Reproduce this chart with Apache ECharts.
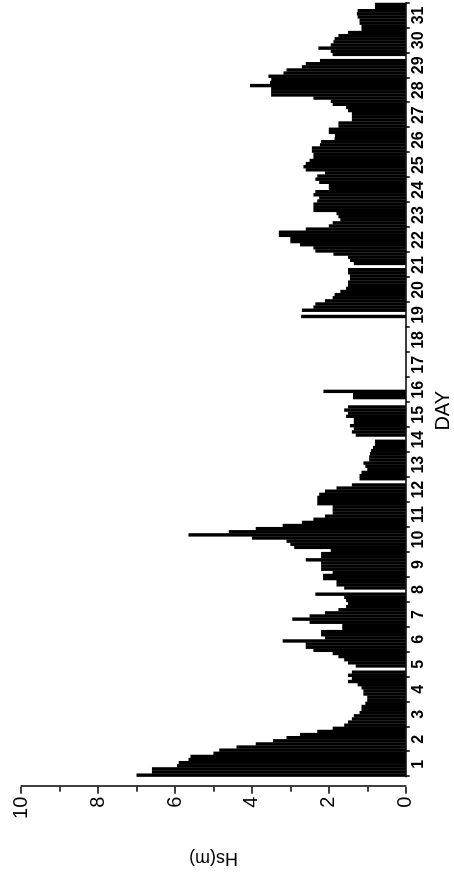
<!DOCTYPE html>
<html>
<head>
<meta charset="utf-8">
<script src="https://cdn.jsdelivr.net/npm/echarts@6/dist/echarts.min.js"></script>
<style>
html,body{margin:0;padding:0;width:454px;height:881px;overflow:hidden;background:#fff}
#chart{position:absolute;left:0;top:0;width:881px;height:454px;transform-origin:0 0;transform:translate(0,881px) rotate(-90deg);}
</style>
</head>
<body>
<div id="chart"></div>
<script>
// Day labels (category axis)
const days = ['1','2','3','4','5','6','7','8','9','10','11','12','13','14','15','16',
  '17','18','19','20','21','22','23','24','25','26','27','28','29','30','31'];
// Value axis ticks
const hsMin = 0, hsMax = 10, hsStep = 2;
// 3-hourly significant wave height Hs (m), 8 values per day, null = no data
const slotsPerDay = 8;
const hsDay01to08 = [
  7.0, 6.6, 6.6, 5.95, 5.9, 5.65, 5.6, 5.0,
  4.85, 4.4, 3.9, 3.45, 3.1, 2.75, 2.3, 1.9,
  1.6, 1.5, 1.4, 1.35, 1.2, 1.15, 1.15, 1.05,
  1.0, 1.0, 1.1, 1.1, 1.15, 1.25, 1.5, 1.4,
  1.5, 1.4, null, 1.3, 1.5, 1.6, 1.75, 1.9,
  2.4, 2.6, 2.6, 3.2, 2.1, 2.2, 2.2, 1.65,
  1.65, 2.5, 2.95, 2.5, 2.1, 1.75, 1.55, 1.5,
  1.55, 1.6, 2.35, null, 1.6, 1.8, 1.8, 2.15
];
const hsDay09to16 = [
  2.15, 1.9, 2.2, 2.2, 2.2, 2.6, 2.2, 2.2,
  1.95, 2.9, 3.0, 3.1, 4.0, 5.65, 4.6, 3.9,
  3.2, 2.7, 2.4, 2.1, 1.9, 1.9, 1.9, 2.3,
  2.3, 2.3, 2.25, 2.1, 1.8, 1.4, null, 1.2,
  1.2, 1.15, 1.0, 1.05, 1.1, 0.95, 0.95, 0.93,
  0.9, 0.85, 0.8, 0.8, null, 1.3, 1.4, 1.35,
  1.45, 1.35, 1.35, 1.55, 1.5, 1.6, 1.5, null,
  null, 1.37, 1.37, 2.14, null, null, null, null
];
const hsDay17to24 = [
  null, null, null, null, null, null, null, null,
  null, null, null, null, null, null, null, null,
  null, null, null, 2.72, null, 2.7, 2.4, 2.35,
  2.1, 1.9, 1.85, 1.7, 1.55, 1.5, 1.5, 1.45,
  1.45, 1.5, 1.5, null, 1.35, 1.45, 1.5, 1.88,
  2.35, 2.4, 2.75, 3.0, 3.0, 3.3, 3.3, 2.6,
  2.0, 1.9, 1.7, 1.75, 1.8, 2.4, 2.4, 2.4,
  2.3, 2.25, 2.4, 2.35, 2.0, 2.0, 2.25, 2.35
];
const hsDay25to31 = [
  2.3, 2.1, 2.6, 2.66, 2.6, 2.5, 2.4, 2.4,
  2.44, 2.44, 2.23, 2.2, 1.85, 1.84, 2.0, 2.0,
  1.75, 1.75, 1.4, 1.4, 1.4, 1.5, 1.55, 1.9,
  1.95, 2.4, 3.5, 3.5, 3.5, 4.05, 3.53, 3.5,
  3.57, 3.18, 3.1, 2.7, 2.6, 2.23, null, 1.9,
  1.95, 2.27, 1.95, 1.88, 1.85, 1.75, 1.5, 1.15,
  1.15, 1.2, 1.2, 1.25, 1.27, 1.25, 0.8, 0.8
];
const hs = hsDay01to08.concat(hsDay09to16, hsDay17to24, hsDay25to31);

const chart = echarts.init(document.getElementById('chart'), null, {renderer: 'canvas'});
const barData = hs.map((v, i) => [(i + 0.5) / slotsPerDay, v === null ? '-' : v]);
const FONT = 'Liberation Sans';
chart.setOption({
  animation: false,
  backgroundColor: '#fff',
  grid: {left: 104.3, right: 2.9, top: 21.2, bottom: 48.3, containLabel: false, outerBoundsMode: 'none'},
  xAxis: [{
    type: 'category', data: days, boundaryGap: true, position: 'bottom',
    axisLine: {show: true, onZero: false, lineStyle: {color: '#000', width: 1.5}},
    axisTick: {show: true, inside: false, length: 4, lineStyle: {color: '#000', width: 1.5}},
    axisLabel: {show: true, interval: 0, margin: 5, color: '#000', fontSize: 16, fontWeight: 'bold', fontFamily: FONT},
    splitLine: {show: false},
    name: 'DAY', nameLocation: 'middle', nameGap: 28,
    nameTextStyle: {color: '#000', fontSize: 20, fontFamily: FONT, padding: [0, 42, 0, 0]}
  }, {
    type: 'value', min: 0, max: days.length, show: false
  }],
  yAxis: {
    type: 'value', min: hsMin, max: hsMax, interval: hsStep, offset: 10,
    axisLine: {show: true, onZero: false, lineStyle: {color: '#000', width: 1.5}},
    axisTick: {show: true, inside: false, length: 7, lineStyle: {color: '#000', width: 1.5}},
    minorTick: {show: true, splitNumber: 2, length: 5, lineStyle: {color: '#000', width: 1.5}},
    axisLabel: {margin: 10, color: '#000', fontSize: 20, fontFamily: FONT},
    splitLine: {show: false},
    minorSplitLine: {show: false},
    name: 'Hs(m)', nameLocation: 'middle', nameGap: 62,
    nameTextStyle: {color: '#000', fontSize: 18, fontFamily: FONT}
  },
  series: [{
    type: 'bar', xAxisIndex: 1, yAxisIndex: 0, data: barData,
    barWidth: 3.4, itemStyle: {color: '#000'}, silent: true
  }]
});
</script>
</body>
</html>
